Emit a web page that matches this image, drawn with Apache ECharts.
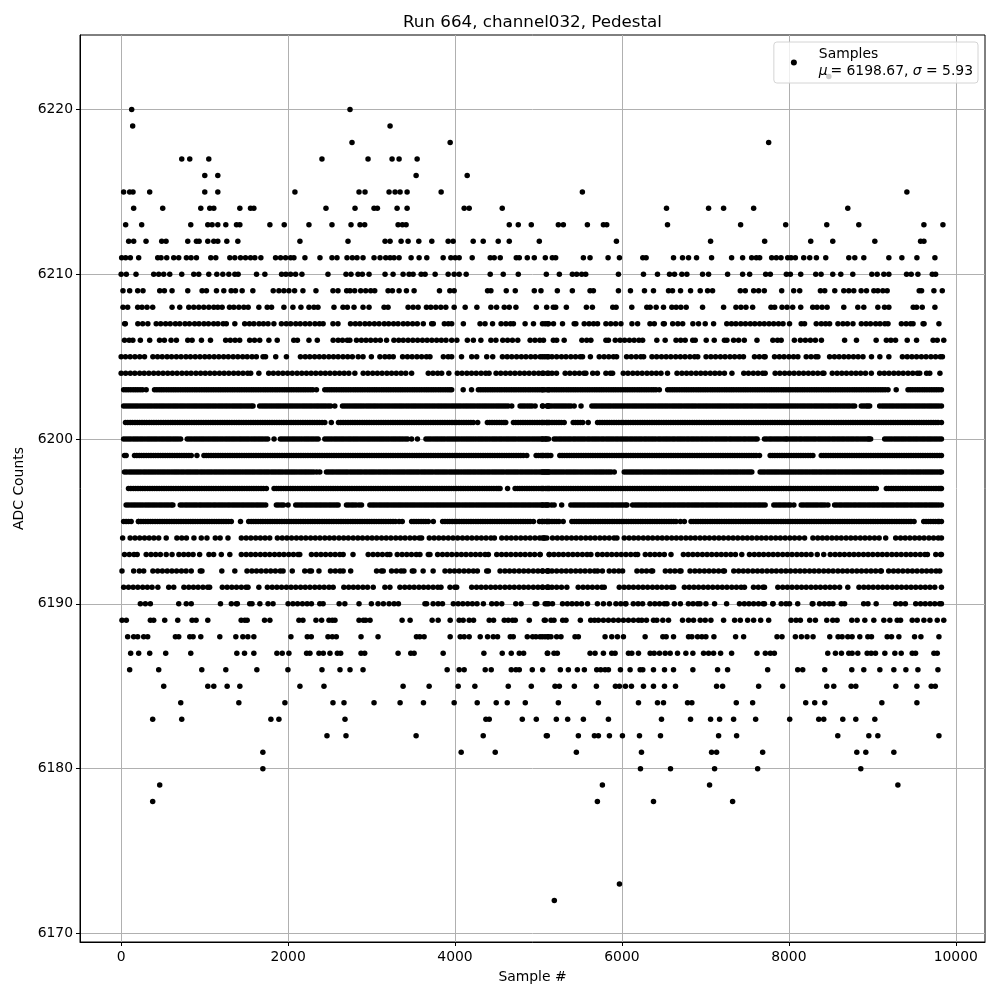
<!DOCTYPE html>
<html><head><meta charset="utf-8">
<style>html,body{margin:0;padding:0;background:#fff}#c{width:1000px;height:1000px}</style>
<script src="https://cdn.jsdelivr.net/npm/echarts@6/dist/echarts.min.js"></script>
</head><body><div id="c"></div>
<script>
const xTicks=[0,2000,4000,6000,8000,10000];
const yTicks=[6170,6180,6190,6200,6210,6220];
const s6222=[8479];
const s6220=[126,2742];
const s6219=[138,3222];
const s6218=[2766,3942,7758];
const s6217=[726,822,1050,2406,2958,3246,3330,3546];
const s6216=[1002,1158,3534,4146];
const s6215=[30,102,142,342,1002,1158,2082,2850,2922,3210,3282,3342,3426,3834,5526,9414];
const s6214=[150,498,954,1062,1110,1422,1550,1590,2454,2802,3030,3070,3306,3426,4110,4170,4566,6534,7038,7218,7578,8706];
const s6213=[54,246,834,1038,1090,1158,1254,1382,1422,1782,1954,2250,2526,2754,2862,2918,3318,3370,3414,4650,4758,4914,5238,5298,5586,5778,5818,6546,7422,7962,8454,8838,9618,9846];
const s6212=[90,150,298,486,538,798,902,934,1038,1110,1158,1266,1398,2142,2718,3162,3222,3354,3438,3566,3722,3918,3978,4218,4338,4518,4650,5010,5934,7062,7710,8262,8526,9030,9578,9618];
const s6211=[6,54,110,210,438,478,546,630,690,782,838,902,1074,1134,1302,1362,1430,1490,1550,1602,1674,1850,1910,1970,2030,2070,2202,2382,2526,2586,2706,2770,2826,2898,3030,3102,3170,3222,3270,3330,3474,3570,3662,3858,3950,4002,4050,4206,4422,4470,4542,4734,4770,4866,4950,5082,5166,5206,5538,5618,5834,5970,6250,6290,6618,6726,6798,6894,7074,7314,7446,7554,7610,7650,7794,7850,7906,7986,8026,8078,8178,8250,8330,8442,8718,8790,8898,9198,9354,9534,9750];
const s6210=[0,62,178,390,450,510,582,726,870,930,1050,1146,1218,1290,1362,1402,1622,1722,1922,1974,2030,2090,2166,2478,2694,2754,2838,2890,2970,3162,3258,3378,3450,3498,3594,3642,3762,3918,3990,4050,4134,4422,4578,4758,5094,5250,5406,5458,5518,5566,5958,6258,6426,6570,6630,6718,6778,6966,7038,7266,7446,7530,7722,7778,7970,8018,8142,8322,8386,8526,8622,8766,8994,9058,9138,9198,9410,9466,9546,9718,9758];
const s6209=[22,102,198,262,462,518,610,798,970,1022,1142,1230,1318,1370,1450,1578,1822,1890,1950,2010,2078,2178,2334,2538,2598,2702,2742,2798,2870,2930,2990,3038,3198,3250,3330,3418,3510,3814,3938,3990,4390,4430,4614,4722,4950,5030,5226,5406,5618,5658,5958,6102,6270,6378,6558,6606,6702,6822,6938,7026,7086,7418,7478,7578,7638,7706,7914,8058,8130,8378,8430,8550,8658,8718,8778,8866,8930,9018,9066,9126,9178,9562,9590,9738,9838];
const s6208=[22,78,198,250,310,378,610,702,810,870,930,990,1050,1110,1158,1210,1298,1350,1410,1470,1522,1650,1750,1802,1950,2058,2154,2250,2310,2358,2550,2658,2710,2790,2898,2970,3150,3198,3438,3498,3558,3658,3710,3770,3830,3890,3990,4122,4262,4430,4498,4590,4650,4730,4974,5098,5178,5206,5334,5574,5646,5890,5930,6118,6298,6338,6410,6498,6598,6650,6706,6770,6966,7218,7366,7426,7486,7566,7786,7830,7918,7978,8046,8142,8286,8338,8398,8458,8658,8826,8898,9066,9146,9198,9490,9530,9598,9750];
const s6207=[42,50,200,258,320,420,474,533,588,650,702,765,818,880,933,992,1046,1108,1160,1222,1260,1362,1480,1537,1590,1652,1705,1760,1830,1920,1978,2031,2092,2146,2205,2260,2322,2376,2420,2538,2598,2748,2806,2860,2921,2975,3034,3090,3152,3205,3264,3318,3380,3433,3492,3548,3620,3720,3740,3872,3920,3960,4100,4300,4360,4450,4552,4610,4665,4700,4840,4940,5080,5120,5048,5110,5180,5288,5428,5448,5548,5606,5660,5708,5808,5866,5925,5988,6120,6188,6336,6388,6496,6508,6608,6670,6728,6850,6918,6998,7098,7256,7312,7365,7424,7480,7538,7592,7650,7705,7762,7818,7876,7930,8008,8148,8188,8328,8388,8440,8488,8588,8648,8702,8768,8868,8925,8978,9040,9092,9150,9188,9348,9405,9458,9488,9608,9620,9798];
const s6206=[40,96,140,230,342,460,518,598,662,798,850,962,1070,1252,1308,1365,1420,1540,1598,1660,1770,1870,2068,2112,2250,2350,2540,2600,2652,2710,2740,2820,2878,2934,2990,3048,3105,3180,3268,3326,3380,3438,3495,3552,3610,3666,3722,3780,3836,3892,3960,4022,4148,4220,4310,4430,4490,4572,4630,4688,4752,4900,4958,5016,5060,5178,5218,5308,5520,5578,5628,5808,5838,5920,5978,6032,6090,6146,6204,6248,6418,6518,6648,6704,6758,6848,6878,7010,7106,7228,7258,7338,7398,7466,7618,7808,7864,7908,8066,8138,8198,8258,8318,8390,8668,8810,9046,9168,9222,9278,9418,9530,9728,9778,9856];
const s6205=[0,52,108,165,222,280,380,436,492,550,604,662,718,776,830,888,944,1002,1056,1114,1170,1228,1284,1342,1398,1456,1510,1568,1620,1700,1730,1852,1980,2148,2206,2260,2318,2374,2430,2488,2544,2600,2658,2714,2770,2840,2898,2998,3100,3160,3212,3260,3372,3430,3486,3544,3600,3658,3700,3860,3918,3960,4078,4200,4260,4380,4452,4568,4625,4680,4738,4795,4850,4908,4962,5020,5076,5120,5048,5104,5162,5218,5276,5330,5388,5444,5500,5528,5622,5728,5786,5842,5898,5936,6056,6112,6170,6226,6260,6360,6416,6474,6530,6586,6644,6700,6756,6814,6870,6908,7008,7066,7122,7180,7236,7294,7350,7408,7456,7588,7646,7702,7716,7828,7886,7942,8000,8056,8108,8208,8266,8322,8348,8488,8546,8602,8660,8716,8774,8830,8888,8990,9090,9198,9360,9418,9474,9530,9588,9644,9702,9758,9814,9840];
const s6204=[0,54,110,164,222,276,332,390,446,502,558,614,670,728,784,838,896,952,1008,1064,1120,1178,1234,1290,1348,1404,1460,1516,1552,1650,1768,1824,1882,1938,1994,2050,2108,2164,2220,2276,2332,2390,2446,2502,2560,2616,2672,2728,2800,2900,2956,3014,3070,3126,3184,3240,3296,3354,3410,3480,3680,3736,3792,3840,3926,4028,4084,4142,4198,4254,4312,4368,4408,4492,4548,4606,4662,4718,4776,4832,4888,4946,5002,5058,5120,5048,5106,5162,5216,5320,5376,5434,5490,5546,5568,5650,5706,5808,5862,5888,6016,6072,6130,6186,6242,6300,6356,6412,6468,6546,6660,6718,6774,6830,6888,6944,7000,7058,7114,7170,7228,7318,7460,7516,7574,7630,7686,7716,7836,7892,7950,8006,8062,8120,8176,8234,8290,8346,8404,8420,8520,8578,8634,8690,8748,8804,8860,8918,8988,9088,9144,9200,9258,9314,9370,9428,9484,9540,9568,9650,9688,9810];
const s6203=[30,86,144,200,256,300,400,456,512,570,626,682,740,796,852,908,966,1022,1078,1136,1192,1248,1306,1362,1418,1474,1532,1588,1644,1702,1758,1814,1870,1928,1984,2040,2098,2154,2210,2268,2340,2440,2496,2552,2610,2666,2722,2780,2836,2892,2950,3006,3062,3120,3176,3232,3290,3346,3402,3460,3516,3572,3630,3686,3742,3800,3856,3912,3960,4098,4198,4280,4336,4394,4450,4506,4562,4620,4676,4732,4790,4846,4902,4960,5016,5072,5120,5048,5104,5162,5218,5274,5332,5388,5444,5502,5558,5614,5672,5728,5784,5842,5898,5954,6012,6068,6124,6182,6238,6294,6352,6408,6448,6548,6604,6660,6718,6774,6830,6888,6944,7000,7058,7114,7170,7228,7284,7340,7398,7454,7510,7568,7624,7680,7738,7794,7850,7908,7964,8020,8078,8134,8190,8248,8304,8360,8418,8474,8530,8588,8644,8700,8758,8814,8870,8928,8984,9040,9098,9154,9188,9286,9428,9484,9542,9598,9654,9712,9768,9828];
const s6202=[30,86,142,198,256,312,368,426,482,538,596,652,708,764,822,878,934,992,1048,1104,1162,1218,1274,1332,1388,1444,1502,1558,1580,1660,1716,1772,1830,1886,1942,2000,2056,2112,2170,2226,2282,2340,2396,2452,2510,2560,2652,2708,2766,2822,2878,2936,2992,3048,3106,3162,3218,3276,3332,3388,3446,3502,3558,3616,3672,3728,3786,3842,3898,3956,4012,4068,4126,4182,4238,4296,4352,4408,4466,4522,4578,4636,4680,4780,4836,4894,4960,5052,5108,5120,5048,5104,5160,5218,5274,5330,5388,5428,5510,5640,5696,5754,5810,5866,5924,5980,6036,6094,6150,6206,6264,6320,6376,6434,6490,6546,6604,6660,6716,6774,6830,6886,6944,7000,7056,7114,7170,7226,7284,7340,7396,7454,7510,7566,7624,7680,7736,7794,7850,7906,7964,8020,8076,8134,8190,8246,8304,8360,8416,8474,8530,8586,8644,8700,8788,8868,8924,8968,9088,9146,9202,9258,9316,9372,9428,9486,9542,9598,9656,9712,9768,9828];
const s6201=[52,108,166,222,278,336,392,448,506,562,618,676,732,788,846,902,958,1016,1072,1128,1186,1242,1298,1356,1412,1468,1526,1582,1638,1696,1752,1808,1866,1922,1978,2036,2092,2148,2206,2262,2318,2376,2440,2518,2604,2660,2718,2774,2830,2888,2944,3000,3058,3114,3170,3228,3284,3340,3398,3454,3510,3568,3624,3680,3738,3794,3850,3908,3964,4020,4078,4134,4190,4272,4388,4444,4502,4558,4608,4700,4756,4814,4870,4926,4984,5040,5096,5120,5048,5104,5162,5218,5274,5308,5416,5472,5530,5596,5708,5764,5822,5878,5934,5992,6048,6104,6162,6218,6274,6332,6388,6444,6502,6558,6614,6672,6728,6784,6842,6898,6954,7012,7068,7124,7182,7238,7294,7352,7408,7464,7522,7578,7634,7692,7748,7804,7862,7918,7974,8032,8088,8144,8202,8258,8314,8372,8428,8484,8542,8598,8654,8712,8768,8824,8882,8938,8994,9052,9108,9164,9222,9278,9334,9392,9448,9504,9562,9618,9674,9732,9788,9828];
const s6200=[30,86,144,200,256,314,370,426,484,540,596,654,712,792,848,906,962,1018,1076,1132,1188,1246,1302,1358,1416,1472,1528,1586,1642,1698,1756,1832,1908,1964,2022,2078,2134,2192,2248,2304,2360,2440,2496,2554,2610,2666,2724,2780,2836,2894,2950,3006,3064,3120,3176,3234,3290,3346,3404,3480,3550,3652,3708,3766,3822,3878,3936,3992,4048,4106,4162,4218,4276,4332,4388,4446,4502,4558,4616,4672,4728,4786,4842,4898,4956,5012,5068,5120,5048,5088,5188,5246,5302,5358,5416,5472,5528,5586,5642,5698,5756,5812,5868,5926,5982,6038,6096,6152,6208,6266,6322,6378,6436,6492,6548,6606,6662,6718,6776,6832,6888,6946,7002,7058,7116,7172,7228,7286,7342,7398,7456,7512,7568,7620,7708,7766,7822,7878,7936,7980,9148,9204,9262,9318,9374,9432,9488,9544,9602,9658,9714,9772,9828,8040,8096,8152,8210,8266,8322,8380,8436,8492,8550,8606,8662,8720,8776,8832,8890,8946,8980];
const s6199=[40,60,160,216,272,330,386,442,500,556,612,670,726,782,840,908,992,1048,1106,1162,1218,1276,1332,1388,1446,1502,1558,1616,1672,1728,1786,1842,1898,1956,2012,2068,2126,2182,2238,2296,2352,2408,2466,2522,2578,2636,2692,2748,2806,2862,2918,2976,3032,3088,3146,3202,3258,3316,3372,3428,3486,3542,3598,3656,3712,3768,3826,3882,3938,3996,4052,4108,4166,4222,4278,4336,4392,4448,4506,4562,4618,4676,4732,4788,4860,4972,5030,5086,5120,5048,5104,5148,5256,5312,5370,5426,5482,5540,5596,5652,5710,5766,5822,5880,5936,5992,6050,6106,6162,6220,6276,6332,6390,6446,6502,6560,6616,6672,6730,6786,6842,6900,6956,7012,7070,7126,7182,7240,7296,7352,7410,7466,7522,7580,7648,7776,7832,7890,7946,8002,8060,8116,8172,8230,8288,8388,8444,8502,8558,8614,8672,8728,8784,8842,8898,8954,9012,9068,9124,9182,9238,9294,9352,9408,9464,9522,9578,9634,9692,9748,9804,9828];
const s6198=[40,98,154,210,268,324,380,438,494,550,608,664,720,778,834,890,948,1004,1060,1118,1174,1230,1288,1344,1400,1458,1514,1570,1628,1684,1740,1798,1854,1910,1968,2024,2080,2138,2194,2250,2308,2380,2460,2516,2574,2630,2686,2744,2800,2856,2914,2970,3026,3084,3140,3196,3254,3310,3366,3424,3480,3536,3594,3650,3706,3764,3820,3876,3934,3990,4046,4104,4160,4216,4274,4330,4386,4444,4500,4556,4614,4670,4726,4784,4840,4896,4954,5010,5066,5120,5048,5104,5162,5218,5274,5332,5388,5444,5502,5558,5614,5672,5728,5784,5842,5908,6028,6086,6142,6198,6256,6312,6368,6426,6482,6538,6596,6652,6708,6766,6822,6878,6936,6992,7048,7106,7162,7218,7276,7332,7388,7446,7502,7556,7656,7712,7770,7826,7882,7940,7996,8052,8110,8166,8222,8280,8336,8392,8450,8506,8562,8620,8676,8732,8790,8846,8902,8960,9016,9072,9130,9186,9242,9300,9356,9412,9470,9526,9582,9640,9696,9752,9810,9828];
const s6197=[88,146,202,258,316,372,428,486,542,598,656,712,768,826,882,938,996,1052,1108,1166,1222,1278,1336,1392,1448,1506,1562,1618,1676,1740,1832,1888,1946,2002,2058,2116,2172,2228,2286,2342,2398,2456,2512,2568,2626,2682,2738,2796,2852,2908,2966,3022,3078,3136,3192,3248,3306,3362,3418,3476,3532,3588,3646,3702,3758,3816,3872,3928,3986,4042,4098,4156,4212,4268,4326,4382,4438,4496,4540,4630,4720,4776,4834,4890,4946,5004,5060,5120,5048,5106,5162,5218,5276,5332,5388,5446,5502,5558,5616,5672,5728,5786,5842,5898,5956,6012,6068,6126,6182,6238,6296,6352,6408,6466,6522,6578,6636,6692,6748,6806,6862,6918,6976,7032,7088,7146,7202,7258,7316,7372,7428,7486,7542,7598,7656,7712,7768,7826,7882,7938,7996,8052,8108,8166,8222,8278,8336,8392,8448,8506,8562,8618,8676,8732,8788,8846,8902,8958,9016,9048,9168,9226,9282,9338,9396,9452,9508,9566,9622,9678,9736,9792,9828];
const s6196=[60,118,174,230,288,344,400,458,514,570,620,708,766,822,878,936,992,1048,1106,1162,1218,1276,1332,1388,1446,1502,1558,1616,1672,1732,1860,1918,2000,2092,2150,2206,2262,2320,2376,2432,2490,2546,2600,2700,2758,2814,2880,2980,3036,3094,3150,3206,3264,3320,3376,3434,3490,3546,3604,3660,3716,3774,3830,3886,3944,4000,4056,4114,4170,4226,4284,4340,4396,4454,4510,4566,4624,4680,4736,4794,4850,4906,4964,5020,5076,5120,5048,5104,5188,5278,5388,5446,5502,5558,5616,5672,5728,5786,5842,5898,5956,6012,6060,6128,6186,6242,6298,6356,6412,6468,6526,6582,6638,6696,6752,6808,6866,6922,6978,7036,7092,7148,7206,7262,7318,7376,7432,7488,7546,7602,7658,7716,7820,7878,7934,7992,8060,8148,8206,8262,8318,8376,8432,8468,8548,8606,8662,8718,8776,8832,8888,8946,9002,9058,9116,9172,9228,9286,9342,9398,9456,9512,9568,9626,9682,9738,9796,9828];
const s6195=[30,88,120,208,266,322,378,436,492,548,606,662,718,776,832,888,946,1002,1058,1116,1172,1228,1286,1320,1430,1528,1586,1642,1698,1756,1812,1868,1926,1982,2038,2096,2152,2208,2266,2322,2378,2436,2492,2548,2606,2662,2718,2776,2832,2888,2946,3002,3058,3116,3172,3228,3286,3368,3480,3536,3594,3650,3740,3852,3910,3966,4022,4080,4136,4192,4250,4306,4362,4420,4476,4532,4590,4646,4702,4760,4816,4872,4940,5012,5070,5120,5048,5104,5162,5218,5296,5400,5458,5514,5570,5628,5684,5740,5798,5854,5910,5968,6024,6080,6138,6194,6250,6308,6364,6420,6478,6534,6590,6648,6748,6828,6886,6942,6998,7056,7112,7168,7226,7282,7338,7396,7452,7508,7566,7622,7678,7736,7792,7848,7906,7962,8018,8076,8132,8188,8246,8302,8358,8416,8472,8528,8586,8642,8698,8756,8812,8868,8926,8982,9038,9096,9152,9208,9266,9322,9378,9436,9500,9616,9672,9730,9786,9828];
const s6194=[18,108,166,222,280,336,392,450,540,668,726,782,872,960,1028,1128,1186,1280,1440,1498,1554,1612,1668,1724,1780,1872,1930,1986,2042,2100,2156,2212,2270,2326,2382,2440,2496,2552,2610,2666,2722,2780,2836,2892,2950,3006,3062,3120,3176,3232,3290,3346,3402,3460,3516,3572,3600,3692,3750,3806,3862,3920,3976,4032,4090,4146,4202,4260,4316,4372,4430,4472,4560,4618,4674,4730,4788,4844,4900,4958,5014,5070,5100,5048,5068,5168,5226,5282,5338,5396,5452,5508,5566,5622,5678,5736,5792,5848,5906,5940,6028,6086,6142,6198,6256,6312,6368,6426,6482,6538,6596,6652,6708,6766,6822,6878,6936,6992,7048,7106,7162,7218,7276,7332,7388,7446,7502,7558,7616,7672,7728,7786,7842,7898,7956,8012,8068,8126,8188,8288,8346,8402,8458,8516,8572,8628,8686,8742,8798,8856,8912,8968,9026,9082,9160,9280,9338,9394,9450,9508,9564,9620,9678,9734,9790,9828];
const s6193=[40,98,154,192,300,358,414,470,540,610,692,750,806,862,940,1052,1108,1200,1302,1440,1498,1554,1610,1668,1724,1780,1838,1894,1950,2008,2064,2120,2140,2280,2338,2394,2450,2508,2564,2620,2660,2778,2960,3018,3074,3130,3188,3220,3308,3366,3422,3478,3536,3580,3680,3700,3792,3850,3906,3962,4020,4076,4132,4190,4246,4302,4360,4400,4500,4558,4614,4670,4728,4784,4840,4898,4954,5020,5130,5018,5128,5186,5242,5298,5356,5412,5468,5526,5582,5628,5708,5766,5822,5878,5936,5992,6048,6106,6162,6188,6280,6338,6394,6450,6508,6588,6736,6794,6850,6906,6964,7020,7076,7134,7190,7246,7304,7360,7436,7528,7586,7642,7698,7756,7812,7868,7926,7982,8038,8096,8152,8208,8266,8340,8418,8496,8554,8610,8666,8724,8780,8836,8894,8950,9006,9064,9120,9176,9234,9290,9346,9404,9460,9516,9574,9630,9660,9760,9818,9828];
const s6192=[10,150,218,270,380,438,494,552,608,664,722,778,840,948,968,1206,1362,1508,1566,1622,1678,1736,1792,1848,1906,1940,2050,2200,2258,2280,2370,2508,2566,2622,2660,2750,3060,3118,3140,3240,3298,3354,3388,3488,3508,3618,3738,3880,3938,3994,4050,4108,4164,4220,4268,4380,4400,4540,4598,4654,4710,4768,4824,4880,4938,4994,5050,5108,5120,5048,5106,5162,5218,5276,5332,5388,5446,5502,5558,5616,5672,5708,5766,5848,5906,5962,6008,6180,6238,6294,6352,6368,6520,6578,6634,6692,6708,6816,6874,6930,6988,7044,7100,7158,7214,7228,7340,7398,7454,7510,7568,7624,7680,7738,7794,7850,7908,7964,8020,8078,8134,8190,8248,8304,8360,8418,8474,8530,8588,8644,8700,8758,8814,8870,8928,8984,9040,9098,9108,9196,9254,9310,9366,9424,9480,9536,9594,9650,9706,9764,9808];
const s6191=[30,88,144,200,258,314,370,440,570,630,752,810,866,922,980,1036,1060,1212,1270,1326,1382,1440,1496,1520,1650,1752,1810,1866,1922,1980,2036,2092,2150,2206,2262,2320,2376,2432,2490,2540,2668,2726,2782,2838,2896,2952,3020,3160,3220,3340,3398,3454,3510,3568,3624,3680,3738,3794,3832,3940,3998,4020,4200,4258,4314,4370,4428,4484,4540,4598,4654,4710,4768,4824,4880,4938,4994,5050,5108,5120,5048,5106,5162,5218,5276,5340,5476,5534,5590,5646,5704,5760,5788,5968,6026,6082,6138,6196,6252,6308,6366,6422,6478,6536,6592,6620,6748,6806,6862,6918,6976,7032,7088,7146,7202,7258,7316,7372,7428,7468,7576,7634,7690,7708,7868,7926,7982,8038,8096,8152,8208,8266,8322,8378,8436,8492,8548,8608,8706,8840,8898,8954,9010,9068,9124,9180,9238,9294,9350,9408,9464,9520,9578,9634,9690,9748,9828];
const s6190=[230,290,350,690,780,840,1190,1320,1380,1392,1540,1568,1662,1760,1820,2000,2058,2114,2172,2228,2280,2380,2420,2612,2680,2850,2998,3078,3142,3210,3270,3322,3640,3660,3738,3798,3850,3980,4038,4094,4152,4208,4264,4340,4440,4498,4560,4728,4792,4960,4980,5100,5120,5080,5168,5288,5346,5402,5458,5516,5588,5706,5778,5850,5928,5986,6042,6048,6136,6194,6248,6336,6394,6450,6508,6540,6628,6700,6796,6852,6908,6936,7006,7110,7254,7408,7466,7522,7578,7636,7692,7708,7808,7810,7908,7966,8008,8106,8280,8288,8368,8426,8482,8528,8628,8668,8896,8948,9046,9280,9338,9396,9520,9578,9634,9692,9748,9806,9828];
const s6189=[10,62,350,390,522,678,850,898,1038,1438,1482,1510,1718,1782,2130,2178,2334,2402,2490,2530,2562,2850,2902,2930,2982,3366,3462,3726,3798,3942,4050,4098,4170,4222,4410,4462,4590,4638,4690,4722,4890,5082,5070,5150,5186,5290,5330,5502,5626,5672,5718,5778,5838,5898,5958,6018,6078,6138,6198,6238,6294,6378,6418,6490,6558,6726,6798,6858,6938,6998,7066,7218,7350,7418,7506,7578,7662,7758,8026,8086,8138,8250,8318,8454,8526,8578,8754,8818,8910,9018,9138,9210,9298,9338,9478,9538,9618,9690,9778,9856];
const s6188=[78,150,198,270,318,650,690,822,862,954,1182,1374,1458,1518,1590,2034,2230,2278,2478,2530,2578,2874,3078,3538,3578,3630,3942,4062,4110,4170,4302,4390,4458,4510,4662,4698,4866,4930,4970,5046,5110,5150,5018,5078,5118,5218,5270,5438,5478,5798,5878,5946,6018,6278,6490,6530,6618,6798,6838,6906,6958,7006,7102,7362,7458,7858,7918,8078,8150,8218,8290,8490,8590,8638,8706,8758,8850,8946,8990,9178,9230,9318,9506,9582,9798];
const s6187=[114,210,342,534,834,1386,1478,1590,1866,1930,2010,2222,2262,2370,2422,2502,2590,2630,2874,2918,3318,3470,3510,3858,4346,4566,4674,4770,4822,5110,5106,5186,5226,5618,5678,5778,5878,5918,6078,6118,6198,6338,6386,6450,6518,6578,6666,6766,6850,6978,7038,7098,7182,7314,7618,7718,7778,7826,8466,8558,8630,8718,8758,8826,8938,8986,9038,9150,9270,9346,9478,9518,9738,9778];
const s6186=[102,450,966,1254,1626,1998,2406,2622,2742,2898,3906,4050,4110,4362,4434,4674,4730,4770,4926,5050,5262,5358,5466,5550,5698,5746,5798,5838,5982,6098,6218,6250,6378,6510,6618,6850,7146,7266,7746,8106,8166,8430,8754,8898,9090,9258,9402,9546,9786];
const s6185=[510,1038,1110,1270,1422,2142,2430,3378,3690,4038,4238,4638,4914,5198,5250,5430,5694,5922,5970,6042,6114,6258,6378,6510,6642,7134,7206,7638,7926,8454,8538,8746,8802,9282,9534,9706,9754];
const s6184=[714,1410,1962,2538,2670,3030,3342,3622,3990,4266,4494,4626,4842,5238,5718,6198,6426,6498,6786,6838,7370,7566,8202,8310,8430,9114,9534];
const s6183=[378,726,1794,1890,2682,4370,4410,4806,4974,5214,5350,5538,5838,6474,6822,7062,7170,7338,7602,8010,8358,8418,8646,8802,9030];
const s6182=[2466,2694,3534,4338,5106,5094,5478,5670,5718,5850,6006,6210,6462,7158,7374,8586,8958,9066,9798];
const s6181=[1698,4074,4482,5454,6234,7074,7134,7686,8814,8922,9258];
const s6180=[1698,6222,6582,7110,7626,8862];
const s6179=[462,5766,7050,9306];
const s6178=[378,5706,6378,7326];
const s6173=[5970];
const s6172=[5190];
const d6203=[58,115,172,228,428,484,541,598,654,711,768,824,881,937,994,1050,1107,1164,1220,1277,1334,1390,1446,1503,1560,1616,1673,1730,1786,1843,1899,1956,2012,2069,2126,2182,2239,2296,2468,2524,2581,2638,2694,2751,2808,2864,2921,2978,3034,3091,3148,3204,3261,3318,3374,3431,3488,3544,3601,3658,3714,3771,3828,3884,3938,4308,4365,4422,4478,4535,4592,4648,4705,4762,4818,4875,4932,4988,5045,5133,5190,5246,5303,5360,5416,5473,5530,5586,5643,5700,5756,5813,5870,5926,5983,6040,6096,6153,6210,6266,6323,6380,6576,6632,6689,6746,6802,6859,6916,6972,7029,7086,7142,7199,7256,7312,7369,7426,7482,7539,7596,7652,7709,7766,7822,7879,7936,7992,8049,8106,8162,8219,8276,8332,8389,8446,8502,8559,8616,8672,8729,8786,8842,8899,8956,9012,9069,9126,9456,9513,9570,9626,9683,9740,9797];
const d6202=[58,114,170,227,284,340,397,454,510,567,624,680,736,793,850,906,963,1020,1076,1133,1190,1246,1303,1360,1416,1473,1530,1688,1744,1801,1858,1914,1971,2028,2084,2141,2198,2254,2311,2368,2424,2481,2680,2737,2794,2850,2907,2964,3020,3077,3134,3190,3247,3304,3360,3417,3474,3530,3587,3644,3700,3757,3814,3870,3927,3984,4040,4097,4154,4210,4267,4324,4380,4437,4494,4550,4607,4808,4865,4922,5132,5189,5246,5302,5359,5668,5725,5782,5838,5895,5952,6008,6065,6122,6178,6235,6292,6348,6405,6462,6518,6575,6632,6688,6745,6802,6858,6915,6972,7028,7085,7142,7198,7255,7312,7368,7425,7482,7538,7595,7652,7708,7765,7822,7878,7935,7992,8048,8105,8162,8218,8275,8332,8388,8445,8502,8558,8615,8672,8728,8760,8896,8946,9118,9174,9230,9287,9344,9400,9457,9514,9570,9627,9684,9740,9797];
const d6201=[80,136,194,250,306,364,420,477,534,590,647,704,760,817,874,930,987,1044,1100,1157,1214,1270,1327,1384,1440,1497,1554,1610,1667,1724,1780,1837,1894,1950,2007,2064,2120,2177,2234,2290,2347,2408,2632,2689,2746,2802,2859,2916,2972,3029,3086,3142,3199,3256,3312,3369,3426,3482,3539,3596,3652,3709,3766,3822,3879,3936,3992,4049,4106,4162,4219,4416,4473,4530,4586,4728,4785,4842,4898,4955,5012,5068,5133,5190,5246,5444,5501,5736,5793,5850,5906,5963,6020,6076,6133,6190,6246,6303,6360,6416,6473,6530,6586,6643,6700,6756,6813,6870,6926,6983,7040,7096,7153,7210,7266,7323,7380,7436,7493,7550,7606,7663,7720,7776,7833,7890,7946,8003,8060,8116,8173,8230,8286,8343,8400,8456,8513,8570,8626,8683,8740,8796,8853,8910,8966,9023,9080,9136,9193,9250,9306,9363,9420,9476,9533,9590,9646,9703,9760];
const d6200=[58,114,172,228,285,342,398,455,512,568,625,682,820,877,934,990,1047,1104,1160,1217,1274,1330,1387,1444,1500,1557,1614,1670,1727,1936,1993,2050,2106,2163,2220,2276,2333,2468,2525,2582,2638,2695,2752,2808,2865,2922,2978,3035,3092,3148,3205,3262,3318,3375,3432,3680,3737,3794,3850,3907,3964,4020,4077,4134,4190,4247,4304,4360,4417,4474,4530,4587,4644,4700,4757,4814,4870,4927,4984,5040,5096,5216,5273,5330,5386,5443,5500,5556,5613,5670,5726,5783,5840,5896,5953,6010,6066,6123,6180,6236,6293,6350,6406,6463,6520,6576,6633,6690,6746,6803,6860,6916,6973,7030,7086,7143,7200,7256,7313,7370,7426,7483,7540,7596,7736,7793,7850,7906,7963,8012,8068,8125,8182,8238,8295,8352,8408,8465,8522,8578,8635,8692,8748,8805,8862,8918,8960,9176,9233,9290,9346,9403,9460,9516,9573,9630,9686,9743,9800];
const d6199=[188,244,301,358,414,471,528,584,641,698,754,811,1020,1077,1134,1190,1247,1304,1360,1417,1474,1530,1587,1644,1700,1757,1814,1870,1927,1984,2040,2097,2154,2210,2267,2324,2380,2437,2494,2550,2607,2664,2720,2777,2834,2890,2947,3004,3060,3117,3174,3230,3287,3344,3400,3457,3514,3570,3627,3684,3740,3797,3854,3910,3967,4024,4080,4137,4194,4250,4307,4364,4420,4477,4534,4590,4647,4704,4760,4818,5000,5058,5284,5341,5398,5454,5511,5568,5624,5681,5738,5794,5851,5908,5964,6021,6078,6134,6191,6248,6304,6361,6418,6474,6531,6588,6644,6701,6758,6814,6871,6928,6984,7041,7098,7154,7211,7268,7324,7381,7438,7494,7551,7608,7804,7861,7918,7974,8031,8088,8144,8201,8258,8416,8473,8530,8586,8643,8700,8756,8813,8870,8926,8983,9040,9096,9153,9210,9266,9323,9380,9436,9493,9550,9606,9663,9720,9776];
const d6198=[68,126,182,238,296,352,408,466,522,578,636,692,748,806,862,918,976,1032,1088,1146,1202,1258,1316,1372,1428,1486,1542,1598,1656,1712,1768,1826,1882,1938,1996,2052,2108,2166,2222,2278,2344,2488,2544,2602,2658,2714,2772,2828,2884,2942,2998,3054,3112,3168,3224,3282,3338,3394,3452,3508,3564,3622,3678,3734,3792,3848,3904,3962,4018,4074,4132,4188,4244,4302,4358,4414,4472,4528,4584,4642,4698,4754,4812,4868,4924,4982,5038,5094,5076,5133,5190,5246,5303,5360,5416,5473,5530,5586,5643,5700,5756,5813,5870,6058,6114,6170,6227,6284,6340,6397,6454,6510,6567,6624,6680,6737,6794,6850,6907,6964,7020,7077,7134,7190,7247,7304,7360,7417,7474,7530,7684,7741,7798,7854,7911,7968,8024,8081,8138,8194,8251,8308,8364,8421,8478,8534,8591,8648,8704,8761,8818,8874,8931,8988,9044,9101,9158,9214,9271,9328,9384,9441,9498,9554,9611,9668,9724,9781];
const d6197=[116,174,230,286,344,400,456,514,570,626,684,740,796,854,910,966,1024,1080,1136,1194,1250,1306,1364,1420,1476,1534,1590,1646,1704,1860,1916,1974,2030,2086,2144,2200,2256,2314,2370,2426,2484,2540,2596,2654,2710,2766,2824,2880,2936,2994,3050,3106,3164,3220,3276,3334,3390,3446,3504,3560,3616,3674,3730,3786,3844,3900,3956,4014,4070,4126,4184,4240,4296,4354,4410,4466,4518,4748,4804,4862,4918,4974,5032,5088,5134,5190,5247,5304,5360,5417,5474,5530,5587,5644,5700,5757,5814,5870,5927,5984,6040,6097,6154,6210,6267,6324,6380,6437,6494,6550,6607,6664,6720,6777,6834,6890,6947,7004,7060,7117,7174,7230,7287,7344,7400,7457,7514,7570,7627,7684,7740,7797,7854,7910,7967,8024,8080,8137,8194,8250,8307,8364,8420,8477,8534,8590,8647,8704,8760,8817,8874,8930,8987,9196,9253,9310,9366,9423,9480,9536,9593,9650,9706,9763,9812];
const d6195=[60,208,237,294,350,407,464,520,577,634,690,747,804,860,917,974,1030,1087,1144,1200,1257,1558,1614,1671,1728,1784,1841,1898,1954,2011,2068,2124,2181,2238,2294,2351,2408,2464,2521,2578,2634,2691,2748,2804,2861,2918,2974,3031,3088,3144,3201,3258,3330,3508,3565,3622,3680,3880,3937,3994,4050,4107,4164,4220,4277,4334,4390,4447,4504,4560,4617,4674,4730,4787,4844,4900,5042,5098,5133,5190,5246,5430,5486,5543,5600,5656,5713,5770,5826,5883,5940,5996,6053,6110,6166,6223,6280,6336,6393,6450,6506,6563,6620,6700,6856,6913,6970,7026,7083,7140,7196,7253,7310,7366,7423,7480,7536,7593,7650,7706,7763,7820,7876,7933,7990,8046,8103,8160,8216,8273,8330,8386,8443,8500,8556,8613,8670,8726,8783,8840,8896,8953,9010,9066,9123,9180,9236,9293,9350,9406,9463,9644,9700,9757,9800];
const d6196=[88,146,202,259,316,372,429,486,542,599,736,793,850,906,963,1020,1076,1133,1190,1246,1303,1360,1416,1473,1530,1586,1643,1700,1888,1945,2120,2177,2234,2290,2347,2404,2460,2517,2574,2728,2785,2850,3008,3065,3122,3178,3235,3292,3348,3405,3462,3518,3575,3632,3688,3745,3802,3858,3915,3972,4028,4085,4142,4198,4255,4312,4368,4425,4482,4538,4595,4652,4708,4765,4822,4878,4935,4992,5048,5092,5158,5418,5474,5531,5588,5644,5701,5758,5814,5871,5928,5984,6041,6158,6214,6271,6328,6384,6441,6498,6554,6611,6668,6724,6781,6838,6894,6951,7008,7064,7121,7178,7234,7291,7348,7404,7461,7518,7574,7631,7688,7848,7905,7962,8018,8176,8233,8290,8346,8403,8576,8633,8690,8746,8803,8860,8916,8973,9030,9086,9143,9200,9256,9313,9370,9426,9483,9540,9596,9653,9710,9766];
const rows=[[6222,s6222],[6220,s6220],[6219,s6219],[6218,s6218],[6217,s6217],[6216,s6216],[6215,s6215],[6214,s6214],[6213,s6213],[6212,s6212],[6211,s6211],[6210,s6210],[6209,s6209],[6208,s6208],[6207,s6207],[6206,s6206],[6205,s6205],[6204,s6204],[6203,s6203],[6203,d6203],[6202,s6202],[6202,d6202],[6201,s6201],[6201,d6201],[6200,s6200],[6200,d6200],[6199,s6199],[6199,d6199],[6198,s6198],[6198,d6198],[6197,s6197],[6197,d6197],[6196,s6196],[6196,d6196],[6195,s6195],[6195,d6195],[6194,s6194],[6193,s6193],[6192,s6192],[6191,s6191],[6190,s6190],[6189,s6189],[6188,s6188],[6187,s6187],[6186,s6186],[6185,s6185],[6184,s6184],[6183,s6183],[6182,s6182],[6181,s6181],[6180,s6180],[6179,s6179],[6178,s6178],[6173,s6173],[6172,s6172]];
const points=[];
rows.forEach(([y,xs])=>xs.forEach(x=>points.push([x,y])));
const FONT='"DejaVu Sans"';
const chart=echarts.init(document.getElementById('c'),null,{renderer:'canvas'});
chart.setOption({
 animation:false,
 backgroundColor:'#fff',
 title:{text:'Run 664, channel032, Pedestal',left:398,top:9,textStyle:{fontFamily:FONT,fontSize:16.7,fontWeight:'normal',color:'#000'}},
 grid:{left:80,right:15,top:35,bottom:58,show:true,borderColor:'#000',borderWidth:1,backgroundColor:'transparent'},
 xAxis:{type:'value',min:-493,max:10350,name:'Sample #',nameLocation:'middle',nameGap:28,
  nameTextStyle:{fontFamily:FONT,fontSize:13.9,color:'#000'},
  axisLine:{show:true,onZero:false,lineStyle:{color:'#000'}},
  axisTick:{show:true,length:4,customValues:xTicks,lineStyle:{color:'#000'}},
  axisLabel:{customValues:xTicks,fontFamily:FONT,fontSize:13.9,color:'#000',margin:8,formatter:v=>String(v)},
  splitLine:{show:true,lineStyle:{color:'#b0b0b0',width:1}}},
 yAxis:{type:'value',min:6169.48,max:6224.52,name:'ADC Counts',nameLocation:'middle',nameGap:52,
  nameTextStyle:{fontFamily:FONT,fontSize:13.9,color:'#000'},
  axisLine:{show:true,onZero:false,lineStyle:{color:'#000'}},
  axisTick:{show:true,length:4,customValues:yTicks,lineStyle:{color:'#000'}},
  axisLabel:{customValues:yTicks,fontFamily:FONT,fontSize:13.9,color:'#000',margin:7,formatter:v=>String(v)},
  splitLine:{show:true,lineStyle:{color:'#b0b0b0',width:1}}},
 legend:{show:true,right:22,top:42,orient:'vertical',padding:[5,5,5,17],itemWidth:6,itemHeight:6,itemGap:0,
  backgroundColor:'rgba(255,255,255,0.8)',borderColor:'#d4d4d4',borderWidth:1,borderRadius:3,
  data:[{name:'Samples',icon:'circle'}],
  formatter:()=>'{t|Samples}\n{i|μ}{t|\u2009= 6198.67, }{i|σ}{t| = 5.93}',
  textStyle:{fontFamily:FONT,fontSize:13.9,color:'#000',padding:[0,0,0,17],
   rich:{t:{fontFamily:FONT,fontSize:13.9,color:'#000',lineHeight:17},i:{fontFamily:FONT,fontSize:13.9,fontStyle:'italic',color:'#000',lineHeight:17}}}},
 series:[{name:'Samples',type:'scatter',data:points,symbol:'circle',symbolSize:5.5,itemStyle:{color:'#000',opacity:1},silent:true}]
});
</script></body></html>
